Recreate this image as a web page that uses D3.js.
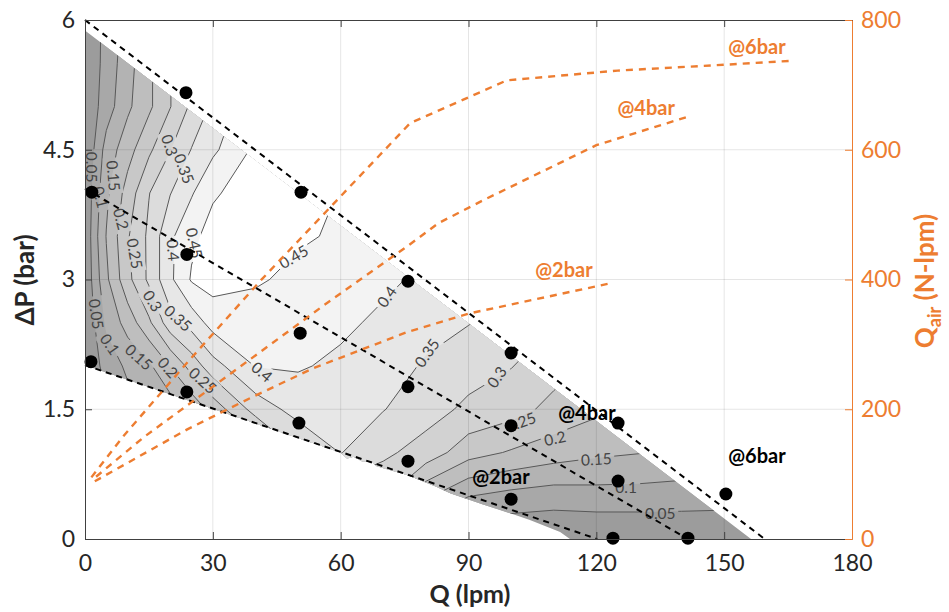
<!DOCTYPE html>
<html>
<head>
<meta charset="utf-8">
<script src="https://cdn.jsdelivr.net/npm/d3@7"></script>
<style>
  body { margin: 0; background: #fff; }
  svg text { font-family: Lato, "Open Sans", sans-serif; }
</style>
</head>
<body>
<div id="chart"></div>
<script>
// efficiency map: columns are Q (lpm), rows are dP (bar), top row first
const qCols = [0, 2, 5, 10, 15, 20, 25, 30, 40, 50, 60, 70, 80, 90, 100, 110, 120, 130, 140, 150, 160];
const pRows = [6, 5.5, 5, 4.5, 4, 3.5, 3, 2.5, 2, 1.5, 1, 0.5, 0];
const effGrid = [
  [0, 0.03, 0.065, 0.12, 0.18, 0.24, 0.3, 0.352, 0.44, 0.47, 0.452, 0.43, 0.42, 0.4, 0.37, 0.33, 0.27, 0.22, 0.17, 0.12, 0.1],
  [0, 0.03, 0.068, 0.13, 0.19, 0.248, 0.31, 0.36, 0.44, 0.47, 0.452, 0.43, 0.42, 0.4, 0.37, 0.33, 0.27, 0.22, 0.17, 0.12, 0.1],
  [0, 0.035, 0.075, 0.14, 0.19, 0.248, 0.31, 0.36, 0.44, 0.47, 0.452, 0.43, 0.42, 0.4, 0.37, 0.33, 0.27, 0.22, 0.17, 0.12, 0.1],
  [0, 0.048, 0.12, 0.18, 0.24, 0.298, 0.352, 0.39, 0.46, 0.47, 0.452, 0.43, 0.42, 0.4, 0.37, 0.33, 0.27, 0.22, 0.17, 0.12, 0.1],
  [0, 0.065, 0.14, 0.22, 0.298, 0.348, 0.395, 0.445, 0.47, 0.47, 0.448, 0.43, 0.42, 0.4, 0.37, 0.33, 0.27, 0.22, 0.17, 0.12, 0.1],
  [0, 0.075, 0.152, 0.245, 0.31, 0.39, 0.44, 0.465, 0.47, 0.455, 0.445, 0.42, 0.41, 0.39, 0.36, 0.33, 0.27, 0.22, 0.17, 0.12, 0.1],
  [0, 0.065, 0.14, 0.235, 0.31, 0.39, 0.455, 0.47, 0.455, 0.44, 0.425, 0.41, 0.39, 0.37, 0.345, 0.33, 0.27, 0.22, 0.17, 0.12, 0.1],
  [0, 0.045, 0.11, 0.17, 0.24, 0.33, 0.37, 0.42, 0.43, 0.42, 0.41, 0.39, 0.365, 0.352, 0.33, 0.302, 0.27, 0.22, 0.17, 0.12, 0.1],
  [0, 0.03, 0.07, 0.11, 0.14, 0.202, 0.27, 0.33, 0.402, 0.405, 0.39, 0.37, 0.345, 0.32, 0.302, 0.27, 0.24, 0.22, 0.17, 0.12, 0.1],
  [0, 0.02, 0.04, 0.08, 0.098, 0.12, 0.16, 0.22, 0.32, 0.37, 0.37, 0.352, 0.32, 0.29, 0.27, 0.235, 0.21, 0.19, 0.17, 0.12, 0.1],
  [0, 0.01, 0.02, 0.048, 0.06, 0.07, 0.098, 0.13, 0.198, 0.298, 0.352, 0.31, 0.28, 0.22, 0.195, 0.175, 0.16, 0.152, 0.14, 0.12, 0.1],
  [0, 0, 0.01, 0.02, 0.03, 0.03, 0.04, 0.048, 0.08, 0.148, 0.27, 0.26, 0.16, 0.102, 0.085, 0.075, 0.08, 0.08, 0.078, 0.075, 0.07],
  [0, 0, 0, 0, 0, 0, 0, 0, 0, 0, 0.098, 0.098, 0.04, 0, 0, 0, 0, 0, 0, 0, 0]
];
const levels = [0.05, 0.1, 0.15, 0.2, 0.25, 0.3, 0.35, 0.4, 0.45];
const bandGrays = ["#9c9c9c", "#a8a8a8", "#b3b3b3", "#bebebe", "#c8c8c8", "#d2d2d2", "#dcdcdc", "#e7e7e7", "#f3f3f3", "#ffffff"];

// outline of the measured area (Q, dP)
const regionEdge = [[0, 5.88], [156.3, 0], [113.8, 0], [111.5, 0.08], [104.4, 0.22], [99, 0.31], [93.4, 0.4],
  [85.7, 0.53], [82.6, 0.6], [75.6, 0.74], [68.5, 0.84], [67, 0.9], [65, 0.9], [63, 0.95], [61.5, 0.93], [60, 1.0], [0, 2.01]];

// pump curves at each supply pressure (Q, dP)
const pump2 = [[0, 2.01], [120.2, 0]];
const pump4 = [[0, 4.05], [141.5, 0]];
const pump6 = [[0, 6], [159.5, 0]];

// test points (Q, dP)
const testPoints = [[23.7, 5.16], [1.6, 4.01], [50.7, 4.01], [23.9, 3.29], [75.8, 2.98], [1.4, 2.05], [50.5, 2.38],
  [23.9, 1.7], [100, 2.15], [75.8, 1.76], [50.2, 1.34], [100, 1.31], [125.1, 1.34], [75.8, 0.9], [125.1, 0.67],
  [100, 0.46], [150.4, 0.52], [123.9, 0.01], [141.5, 0.01]];

// air consumption (Q, Qair)
const air2 = [[2.3, 89], [24, 169], [38.7, 217], [53.5, 263], [75.6, 319], [90.4, 348], [123.2, 394]];
const air4 = [[2.6, 96], [13.8, 157], [24, 206], [50, 331], [56, 360], [76, 453], [83, 487], [93.4, 522], [120, 607], [142, 652]];
const air6 = [[1.5, 95], [9.2, 160], [24, 272], [41.3, 399], [76.3, 641], [99, 707], [125, 722], [150, 731], [165.5, 737]];

const xTicks = [0, 30, 60, 90, 120, 150, 180];
const yTicks = [0, 1.5, 3, 4.5, 6];
const airTicks = [0, 200, 400, 600, 800];

// contour labels: level, Q, dP, angle
const contourLabels = [
  [0.05, 1.4, 4.3, 90], [0.1, 3.6, 3.95, 75], [0.15, 6.6, 4.2, 85], [0.2, 8.4, 3.7, 75], [0.25, 11.6, 3.3, 80],
  [0.3, 19.8, 4.55, 72], [0.35, 23.2, 4.28, 70], [0.4, 20.6, 3.34, 85], [0.45, 25.6, 3.42, 78],
  [0.05, 2.6, 2.6, 82], [0.1, 5.8, 2.25, 55], [0.15, 12.6, 2.1, 42], [0.2, 19.4, 1.98, 48], [0.25, 27.6, 1.83, 42],
  [0.3, 15.8, 2.75, 58], [0.35, 21.8, 2.55, 42], [0.4, 41.5, 1.93, 40],
  [0.45, 49, 3.26, -30], [0.4, 70.9, 2.8, -55], [0.35, 80.3, 2.15, -55], [0.3, 96.7, 1.87, -55],
  [0.25, 102.3, 1.35, -20], [0.2, 110.3, 1.16, -12], [0.15, 120, 0.92, -3], [0.1, 127, 0.6, 0], [0.05, 135, 0.29, 0]
];

// annotations: text, Q, value
const airNotes = [["@6bar", 157.7, 758], ["@4bar", 131.7, 664], ["@2bar", 112.4, 414]];
const pumpNotes = [["@4bar", 117.8, 1.46], ["@2bar", 97.6, 0.72], ["@6bar", 157.7, 0.96]];

const width = 949, height = 612;
const orange = "#ed7d31";
const x = d3.scaleLinear().domain([0, 180]).range([85, 852]);
const y = d3.scaleLinear().domain([0, 6]).range([539, 20]);
const yAir = d3.scaleLinear().domain([0, 800]).range([539, 20]);

const svg = d3.select("#chart").append("svg")
  .attr("width", width)
  .attr("height", height);
const defs = svg.append("defs");

const edgeLine = d3.line().x(d => x(d[0])).y(d => y(d[1]));
defs.append("clipPath").attr("id", "region")
  .append("path").attr("d", edgeLine(regionEdge) + "Z");

const labelW = s => String(s).length * 8 + 4;
const mask = defs.append("mask").attr("id", "labelHoles")
  .attr("maskUnits", "userSpaceOnUse")
  .attr("x", 0).attr("y", 0).attr("width", width).attr("height", height);
mask.append("rect").attr("width", width).attr("height", height).attr("fill", "white");
mask.selectAll("rect.hole").data(contourLabels).join("rect")
  .attr("class", "hole")
  .attr("x", d => -labelW(d[0]) / 2)
  .attr("y", -9)
  .attr("width", d => labelW(d[0]))
  .attr("height", 18)
  .attr("transform", d => `translate(${x(d[1])},${y(d[2])}) rotate(${d[3]})`)
  .attr("fill", "black");

// contour field
const nx = qCols.length, ny = pRows.length;
const pUp = pRows.slice().reverse();
const values = effGrid.slice().reverse().flat();
const gx = d3.scaleLinear().domain(qCols.map((d, i) => i + 0.5)).range(qCols);
const gy = d3.scaleLinear().domain(pUp.map((d, i) => i + 0.5)).range(pUp);
const toScreen = d3.geoTransform({
  point(px, py) { this.stream.point(x(gx(px)), y(gy(py))); }
});
const cpath = d3.geoPath(toScreen);
const bands = d3.contours().size([nx, ny]).thresholds(levels)(values);

const field = svg.append("g").attr("clip-path", "url(#region)");
field.append("rect")
  .attr("x", 85).attr("y", 20).attr("width", 767).attr("height", 519)
  .attr("fill", bandGrays[0]);
field.selectAll("path.band").data(bands).join("path")
  .attr("class", "band")
  .attr("d", cpath)
  .attr("fill", (d, i) => bandGrays[i + 1]);

svg.append("g").attr("clip-path", "url(#region)")
  .append("g").attr("mask", "url(#labelHoles)")
  .selectAll("path").data(bands).join("path")
  .attr("d", cpath)
  .attr("fill", "none")
  .attr("stroke", "#585858")
  .attr("stroke-width", 1);

svg.append("g").selectAll("text").data(contourLabels).join("text")
  .attr("transform", d => `translate(${x(d[1])},${y(d[2])}) rotate(${d[3]})`)
  .attr("text-anchor", "middle")
  .attr("dy", "0.35em")
  .attr("font-size", 15.5)
  .attr("fill", "#444")
  .text(d => d[0]);

// grid
const grid = svg.append("g").attr("stroke", "#000").attr("stroke-opacity", 0.1);
grid.selectAll("line.v").data(xTicks.slice(1, -1)).join("line")
  .attr("x1", d => x(d)).attr("x2", d => x(d))
  .attr("y1", y(0)).attr("y2", y(6));
grid.selectAll("line.h").data(yTicks.slice(1, -1)).join("line")
  .attr("x1", x(0)).attr("x2", x(180))
  .attr("y1", d => y(d)).attr("y2", d => y(d));

// pump curves
svg.append("g").selectAll("path").data([pump2, pump4, pump6]).join("path")
  .attr("d", edgeLine)
  .attr("fill", "none")
  .attr("stroke", "#000")
  .attr("stroke-width", 2)
  .attr("stroke-dasharray", "6,5");

// air consumption
const airLine = d3.line().x(d => x(d[0])).y(d => yAir(d[1]));
svg.append("g").selectAll("path").data([air2, air4, air6]).join("path")
  .attr("d", airLine)
  .attr("fill", "none")
  .attr("stroke", orange)
  .attr("stroke-width", 2.4)
  .attr("stroke-dasharray", "7,6");

svg.append("g").selectAll("circle").data(testPoints).join("circle")
  .attr("cx", d => x(d[0]))
  .attr("cy", d => y(d[1]))
  .attr("r", 6.5)
  .attr("fill", "#000");

// axes
const styleAxis = (g, color) => {
  g.select(".domain").attr("stroke", color);
  g.selectAll(".tick line").attr("stroke", color);
  g.selectAll(".tick text")
    .attr("fill", color === orange ? orange : "#262626")
    .attr("font-size", 23)
    .attr("font-family", "Lato, 'Open Sans', sans-serif");
};
const plain = d => String(d);
svg.append("g").attr("transform", "translate(0,539)")
  .call(d3.axisBottom(x).tickValues(xTicks).tickFormat(plain).tickSizeInner(-7).tickSizeOuter(0).tickPadding(16))
  .call(g => styleAxis(g, "#404040"));
svg.append("g").attr("transform", "translate(0,20)")
  .call(d3.axisTop(x).tickValues(xTicks).tickSizeInner(-7).tickSizeOuter(0).tickFormat(""))
  .call(g => styleAxis(g, "#404040"));
svg.append("g").attr("transform", "translate(85,0)")
  .call(d3.axisLeft(y).tickValues(yTicks).tickFormat(plain).tickSizeInner(-7).tickSizeOuter(0).tickPadding(10))
  .call(g => styleAxis(g, "#404040"));
svg.append("g").attr("transform", "translate(852,0)")
  .call(d3.axisRight(yAir).tickValues(airTicks).tickFormat(plain).tickSizeInner(-7).tickSizeOuter(0).tickPadding(9))
  .call(g => styleAxis(g, orange));

// annotations
svg.append("g").selectAll("text").data(airNotes).join("text")
  .attr("x", d => x(d[1])).attr("y", d => yAir(d[2]))
  .attr("dy", "0.35em")
  .attr("text-anchor", "middle")
  .attr("font-size", 20).attr("font-weight", "bold")
  .attr("fill", orange)
  .text(d => d[0]);
svg.append("g").selectAll("text").data(pumpNotes).join("text")
  .attr("x", d => x(d[1])).attr("y", d => y(d[2]))
  .attr("dy", "0.35em")
  .attr("text-anchor", "middle")
  .attr("font-size", 20).attr("font-weight", "bold")
  .attr("fill", "#000")
  .text(d => d[0]);

// axis titles
svg.append("text")
  .attr("x", 470).attr("y", 603)
  .attr("text-anchor", "middle")
  .attr("font-size", 25).attr("font-weight", "bold").attr("fill", "#262626")
  .text("Q (lpm)");
svg.append("text")
  .attr("transform", "translate(34,280) rotate(-90)")
  .attr("text-anchor", "middle")
  .attr("font-size", 26).attr("font-weight", "bold").attr("fill", "#262626")
  .text("ΔP (bar)");
const airTitle = svg.append("text")
  .attr("transform", "translate(934,281) rotate(-90)")
  .attr("text-anchor", "middle")
  .attr("font-size", 26).attr("font-weight", "bold").attr("fill", orange);
airTitle.append("tspan").text("Q");
airTitle.append("tspan").attr("font-size", 18).attr("dy", 7).text("air");
airTitle.append("tspan").attr("dy", -7).text(" (N-lpm)");
</script>
</body>
</html>
